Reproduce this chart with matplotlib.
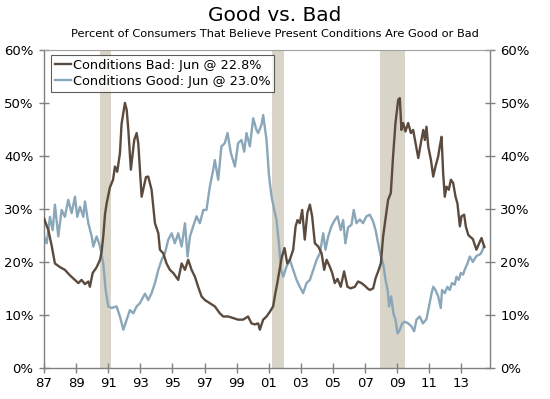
import matplotlib.pyplot as plt
from matplotlib.ticker import FuncFormatter

# Conditions Bad (decimal year, percent)
bad_years = [1987.0, 1987.27, 1987.48, 1987.68, 1988.0, 1988.3, 1988.6, 1988.93, 1989.14, 1989.34,
             1989.55, 1989.76, 1989.86, 1990.03, 1990.28, 1990.49, 1990.59, 1990.69, 1990.8, 1990.9,
             1991.1, 1991.3, 1991.42, 1991.56, 1991.73, 1991.83, 1992.04, 1992.15, 1992.25, 1992.41,
             1992.62, 1992.77, 1992.87, 1993.08, 1993.35, 1993.49, 1993.7, 1993.91, 1994.12, 1994.22,
             1994.43, 1994.63, 1994.84, 1995.05, 1995.36, 1995.57, 1995.78, 1995.98, 1996.19, 1996.4,
             1996.6, 1996.81, 1997.02, 1997.33, 1997.64, 1997.95, 1998.16, 1998.47, 1998.78, 1999.09,
             1999.4, 1999.71, 1999.92, 2000.13, 2000.34, 2000.44, 2000.65, 2000.86, 2001.07, 2001.27,
             2001.41, 2001.53, 2001.67, 2001.82, 2001.98, 2002.15, 2002.31, 2002.52, 2002.67, 2002.79,
             2002.93, 2003.08, 2003.24, 2003.4, 2003.56, 2003.7, 2003.87, 2004.08, 2004.29, 2004.45,
             2004.6, 2004.8, 2004.95, 2005.11, 2005.28, 2005.48, 2005.69, 2005.9, 2006.1, 2006.36,
             2006.56, 2006.77, 2006.98, 2007.15, 2007.29, 2007.5, 2007.65, 2007.81, 2007.98, 2008.12,
             2008.29, 2008.43, 2008.6, 2008.74, 2008.89, 2009.06, 2009.16, 2009.26, 2009.37, 2009.51,
             2009.68, 2009.85, 2009.99, 2010.14, 2010.31, 2010.47, 2010.62, 2010.72, 2010.82, 2010.93,
             2011.1, 2011.24, 2011.38, 2011.55, 2011.65, 2011.76, 2011.86, 2011.96, 2012.07, 2012.21,
             2012.34, 2012.48, 2012.63, 2012.75, 2012.9, 2013.0, 2013.17, 2013.27, 2013.42, 2013.52,
             2013.71, 2013.93, 2014.1, 2014.25, 2014.42]
bad_pct = [28.2, 26, 23, 19.7, 19, 18.5, 17.5, 16.6, 16, 16.6,
           15.8, 16.3, 15.3, 17.9, 19, 20.4, 22, 24.8, 29, 31,
           34, 35.5, 38, 37, 40.5, 46, 50, 48.7, 45, 37.4,
           43, 44.3, 42.4, 32.3, 36, 36.1, 33.6, 27.3, 25.4, 22.3,
           21.6, 19.7, 18.5, 17.9, 16.6, 19.7, 18.5, 20.4, 18.5, 17.2,
           15.3, 13.5, 12.8, 12.2, 11.6, 10.3, 9.7, 9.7, 9.4, 9.1,
           9.1, 9.7, 8.4, 8.2, 8.4, 7.2, 9.1, 9.7, 10.6, 11.6,
           14.1, 16, 18.5, 21, 22.6, 19.7, 20.4, 22.3, 26.7, 27.9,
           27.3, 29.8, 24.2, 29.2, 30.8, 28.6, 23.5, 22.9, 21.6, 18.5,
           20.4, 19.1, 17.9, 16, 16.8, 15.3, 18.2, 15.3, 15, 15.3,
           16.3, 16, 15.5, 15, 14.7, 15, 16.9, 18.2, 19.7, 24.8,
           28.6, 31.7, 33, 39.9, 46.2, 50.6, 50.9, 44.9, 46.2, 44.6,
           46.2, 44.3, 44.9, 42.4, 39.6, 42.4, 44.9, 43, 45.5, 41.8,
           39.2, 36.1, 38, 39.9, 41.8, 43.6, 36.7, 32.3, 34.2, 33.6,
           35.5, 34.9, 32.3, 31, 26.7, 28.6, 28.9, 26.7, 25.1, 24.8,
           24.3, 22.3, 23.5, 24.5, 22.8]

# Conditions Good (decimal year, percent)
good_years = [1987.0, 1987.17, 1987.37, 1987.54, 1987.68, 1987.89, 1988.1, 1988.3, 1988.51, 1988.72,
              1988.93, 1989.07, 1989.24, 1989.45, 1989.55, 1989.76, 1989.97, 1990.07, 1990.28, 1990.49,
              1990.69, 1990.84, 1991.0, 1991.21, 1991.52, 1991.73, 1991.94, 1992.15, 1992.35, 1992.56,
              1992.77, 1992.97, 1993.29, 1993.49, 1993.7, 1993.91, 1994.12, 1994.33, 1994.53, 1994.74,
              1994.95, 1995.15, 1995.36, 1995.57, 1995.78, 1995.94, 1996.09, 1996.29, 1996.5, 1996.71,
              1996.92, 1997.12, 1997.33, 1997.54, 1997.64, 1997.85, 1998.05, 1998.26, 1998.43, 1998.64,
              1998.89, 1999.09, 1999.3, 1999.47, 1999.61, 1999.82, 2000.03, 2000.23, 2000.34, 2000.55,
              2000.65, 2000.86, 2001.0, 2001.17, 2001.34, 2001.48, 2001.63, 2001.76, 2001.9, 2002.1,
              2002.31, 2002.52, 2002.73, 2002.93, 2003.14, 2003.35, 2003.56, 2003.77, 2003.98, 2004.18,
              2004.39, 2004.53, 2004.7, 2004.9, 2005.11, 2005.28, 2005.48, 2005.63, 2005.77, 2005.94,
              2006.15, 2006.29, 2006.46, 2006.67, 2006.87, 2007.08, 2007.29, 2007.5, 2007.65, 2007.81,
              2007.98, 2008.12, 2008.27, 2008.4, 2008.49, 2008.62, 2008.76, 2008.89, 2009.02, 2009.16,
              2009.31, 2009.47, 2009.68, 2009.89, 2010.05, 2010.2, 2010.4, 2010.6, 2010.82, 2010.98,
              2011.14, 2011.24, 2011.38, 2011.55, 2011.71, 2011.79, 2011.96, 2012.12, 2012.27, 2012.41,
              2012.58, 2012.69, 2012.83, 2012.96, 2013.1, 2013.2, 2013.37, 2013.52, 2013.71, 2013.93,
              2014.2, 2014.42]
good_pct = [24.8, 23.5, 28.5, 26, 30.8, 24.8, 29.8, 28.5, 31.7, 29.2,
            32.3, 28.5, 30.4, 28.5, 31.4, 27.3, 24.8, 22.9, 24.8, 22.9,
            19.7, 14.7, 11.6, 11.3, 11.6, 9.7, 7.2, 9.1, 10.9, 10.3,
            11.6, 12.2, 14, 12.8, 14.1, 16, 18.5, 20.4, 21.6, 24.2,
            25.4, 23.5, 25.4, 22.9, 27.3, 21, 24.8, 26.7, 28.6, 27.3,
            29.8, 29.8, 34.2, 37.4, 39.2, 35.5, 41.8, 42.4, 44.3, 40.5,
            38, 42.4, 43, 40.8, 44.3, 41.8, 47.1, 44.9, 44.3, 45.9,
            47.7, 43, 36.7, 32.3, 29.8, 27.9, 23.5, 18.5, 17.2, 19.1,
            20.4, 18.5, 16.6, 15.3, 14.1, 16, 16.6, 18.5, 20.4, 21.6,
            25.4, 22.3, 24.8, 26.7, 27.9, 28.6, 26, 27.9, 23.5, 26.5,
            27, 29.8, 27.3, 28, 27.3, 28.6, 28.9, 27.6, 26, 23.5,
            21, 19.7, 16.6, 14.7, 11.6, 13.5, 10.3, 9.1, 6.5, 7.2,
            8.4, 8.7, 8.4, 7.8, 6.9, 9.1, 9.7, 8.4, 9.2, 11.6,
            14.1, 15.3, 14.7, 13.5, 11.3, 14.7, 14.1, 15.3, 14.7, 16,
            15.7, 17.2, 16.6, 17.9, 17.6, 18.5, 19.7, 21, 20, 21.1,
            21.5, 23.0]

# recessions (start, end)
recessions = [(1990.5, 1991.17), (2001.17, 2001.92), (2007.92, 2009.5)]

x_ticks = list(range(1987, 2014, 2))
x_labels = ["87", "89", "91", "93", "95", "97", "99", "01", "03", "05", "07", "09", "11", "13"]

bad_color = "#5b4a3e"
good_color = "#8aa7ba"
axis_color = "#808080"

fig = plt.figure(figsize=(5.5, 3.99), dpi=100)
ax = fig.add_axes([0.08, 0.078, 0.811, 0.797])

for start, end in recessions:
    ax.axvspan(start, end, color="#d8d4c8", lw=0, zorder=0)

ax.plot(bad_years, bad_pct, color=bad_color, lw=1.7, label="Conditions Bad: Jun @ 22.8%", zorder=3)
ax.plot(good_years, good_pct, color=good_color, lw=1.7, label="Conditions Good: Jun @ 23.0%", zorder=2)

ax.set_xlim(1987, 2014.78)
ax.set_ylim(0, 60)
ax.set_xticks(x_ticks)
ax.set_xticklabels(x_labels)
ax.set_yticks(range(0, 61, 10))
ax.yaxis.set_major_formatter(FuncFormatter(lambda v, p: "%d%%" % v))

for s in ["left", "right", "bottom"]:
    ax.spines[s].set_color(axis_color)
    ax.spines[s].set_linewidth(1.0)
ax.spines["top"].set_color("#a0a0a0")
ax.spines["top"].set_linewidth(0.8)

ax.tick_params(axis="both", direction="inout", length=7, width=1.0, color=axis_color,
               labelsize=9.5, labelcolor="black")
ax.tick_params(axis="y", right=True, labelright=True, pad=4)
ax.tick_params(axis="x", pad=3)

leg = ax.legend(loc="upper left", bbox_to_anchor=(0.015, 0.985), fontsize=9.3, frameon=True,
                fancybox=False, handlelength=1.3, handletextpad=0.1, borderpad=0.3,
                labelspacing=0.25, borderaxespad=0)
leg.get_frame().set_edgecolor("#333333")
leg.get_frame().set_linewidth(0.8)

fig.text(0.5, 0.962, "Good vs. Bad", ha="center", va="center", fontsize=14.5)
fig.text(0.5, 0.915, "Percent of Consumers That Believe Present Conditions Are Good or Bad",
         ha="center", va="center", fontsize=8.2)

fig.savefig("out.png", dpi=100)
